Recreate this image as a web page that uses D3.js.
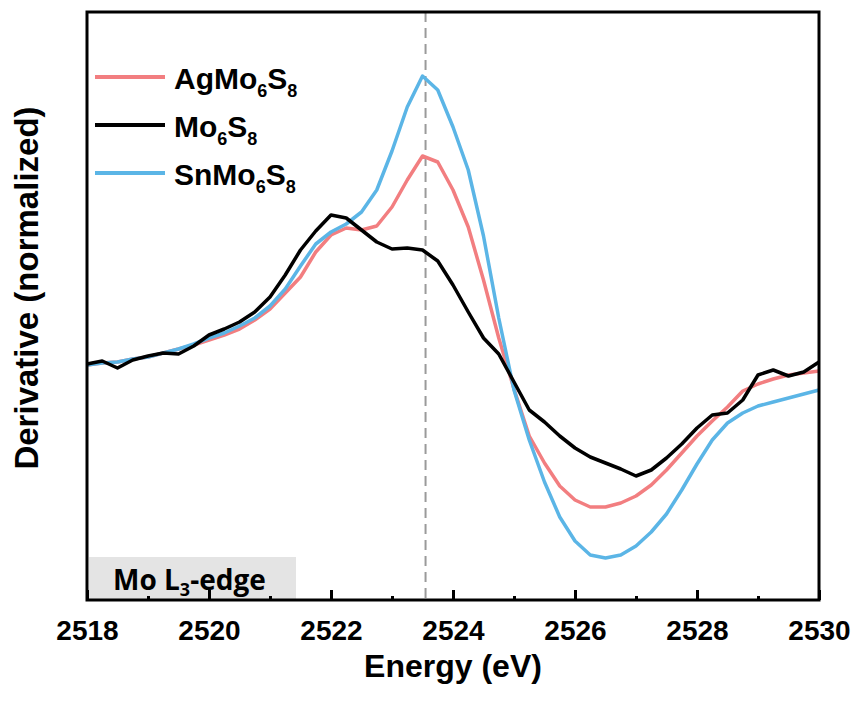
<!DOCTYPE html>
<html>
<head>
<meta charset="utf-8">
<script src="https://cdn.jsdelivr.net/npm/d3@7"></script>
<style>
  body { margin: 0; background: #fff; }
  svg text { font-family: "Liberation Sans", Arial, sans-serif; font-weight: bold; fill: #000; }
</style>
</head>
<body>
<svg id="chart" width="854" height="702"></svg>
<script>
// energy grid (eV)
const energy = [2518.00, 2518.25, 2518.50, 2518.75, 2519.00, 2519.25, 2519.50, 2519.75,
  2520.00, 2520.25, 2520.50, 2520.75, 2521.00, 2521.25, 2521.50, 2521.75,
  2522.00, 2522.25, 2522.50, 2522.75, 2523.00, 2523.25, 2523.50, 2523.75,
  2524.00, 2524.25, 2524.50, 2524.75, 2525.00, 2525.25, 2525.50, 2525.75,
  2526.00, 2526.25, 2526.50, 2526.75, 2527.00, 2527.25, 2527.50, 2527.75,
  2528.00, 2528.25, 2528.50, 2528.75, 2529.00, 2529.25, 2529.50, 2529.75, 2530.00];

// derivative (normalized, arbitrary units)
const agMo6S8 = [0.00, 0.02, 0.03, 0.06, 0.08, 0.12, 0.16, 0.20, 0.25, 0.30, 0.36, 0.45,
  0.56, 0.72, 0.88, 1.13, 1.30, 1.37, 1.35, 1.39, 1.58, 1.85, 2.09, 2.03, 1.75, 1.38,
  0.85, 0.27, -0.24, -0.71, -0.98, -1.21, -1.35, -1.42, -1.42, -1.38, -1.31, -1.20,
  -1.05, -0.88, -0.71, -0.56, -0.42, -0.26, -0.19, -0.14, -0.10, -0.08, -0.06];

const mo6S8 = [0.01, 0.04, -0.03, 0.05, 0.09, 0.12, 0.11, 0.19, 0.30, 0.36, 0.43, 0.53,
  0.68, 0.90, 1.15, 1.34, 1.50, 1.47, 1.35, 1.23, 1.16, 1.17, 1.15, 1.04, 0.80, 0.53,
  0.27, 0.11, -0.17, -0.45, -0.57, -0.71, -0.83, -0.92, -0.98, -1.04, -1.11, -1.05,
  -0.93, -0.79, -0.63, -0.50, -0.48, -0.35, -0.10, -0.05, -0.11, -0.07, 0.03];

const snMo6S8 = [0.00, 0.02, 0.03, 0.06, 0.08, 0.12, 0.16, 0.21, 0.27, 0.32, 0.39, 0.47,
  0.59, 0.76, 0.99, 1.21, 1.33, 1.41, 1.53, 1.75, 2.14, 2.58, 2.89, 2.75, 2.38, 1.95,
  1.29, 0.47, -0.25, -0.75, -1.17, -1.52, -1.76, -1.90, -1.93, -1.90, -1.81, -1.67,
  -1.49, -1.25, -0.99, -0.75, -0.58, -0.48, -0.41, -0.37, -0.33, -0.29, -0.25];

const majorTicks = [2518, 2520, 2522, 2524, 2526, 2528, 2530];
const minorTicks = [2519, 2521, 2523, 2525, 2527, 2529];
const peakEnergy = 2523.55;

const series = [
  { name: "AgMo", sub1: "6", s: "S", sub2: "8", values: agMo6S8, color: "#f27e80" },
  { name: "Mo", sub1: "6", s: "S", sub2: "8", values: mo6S8, color: "#000000" },
  { name: "SnMo", sub1: "6", s: "S", sub2: "8", values: snMo6S8, color: "#5bb5e6" }
];

const svg = d3.select("#chart");
const m = { left: 87, top: 12, right: 819, bottom: 600 };

const x = d3.scaleLinear().domain([2518, 2530]).range([m.left, m.right]);
const y = d3.scaleLinear().domain([-2.35, 3.53]).range([m.bottom, m.top]);

// label box
svg.append("rect")
  .attr("x", m.left + 2).attr("y", 557)
  .attr("width", 207).attr("height", m.bottom - 557)
  .attr("fill", "#e4e4e4");

const boxText = svg.append("text")
  .attr("x", 113).attr("y", 590)
  .style("font-family", "'Open Sans', sans-serif")
  .style("font-weight", "700")
  .style("font-size", "28px");
boxText.append("tspan").text("Mo L");
boxText.append("tspan").text("3").attr("dy", 6).style("font-size", "18px");
boxText.append("tspan").text("-edge").attr("dy", -6);

// dashed reference line
svg.append("line")
  .attr("x1", x(peakEnergy)).attr("x2", x(peakEnergy))
  .attr("y1", m.top).attr("y2", m.bottom)
  .attr("stroke", "#9a9a9a").attr("stroke-width", 2)
  .attr("stroke-dasharray", "10,6");

// curves
const line = d3.line()
  .x((d, i) => x(energy[i]))
  .y(d => y(d));

const drawOrder = [series[0], series[2], series[1]];
svg.append("g").selectAll("path")
  .data(drawOrder)
  .join("path")
  .attr("d", d => line(d.values))
  .attr("fill", "none")
  .attr("stroke", d => d.color)
  .attr("stroke-width", 3.5)
  .attr("stroke-linejoin", "round");

// axes (ticks inside)
const xAxis = svg.append("g")
  .attr("transform", `translate(0,${m.bottom})`)
  .call(d3.axisBottom(x).tickValues(majorTicks).tickFormat(d3.format("d"))
    .tickSizeInner(-10).tickSizeOuter(0).tickPadding(20));
xAxis.select(".domain").remove();
xAxis.selectAll("line").attr("stroke", "#000").attr("stroke-width", 3);
xAxis.selectAll("text").style("font-size", "28px")
  .style("font-family", "'Liberation Sans', Arial, sans-serif").style("font-weight", "bold");

const xMinor = svg.append("g")
  .attr("transform", `translate(0,${m.bottom})`)
  .call(d3.axisBottom(x).tickValues(minorTicks).tickFormat("")
    .tickSizeInner(-4).tickSizeOuter(0));
xMinor.select(".domain").remove();
xMinor.selectAll("line").attr("stroke", "#000").attr("stroke-width", 3);

// frame
svg.append("rect")
  .attr("x", m.left).attr("y", m.top)
  .attr("width", m.right - m.left).attr("height", m.bottom - m.top)
  .attr("fill", "none").attr("stroke", "#000").attr("stroke-width", 3);

// axis titles
svg.append("text")
  .attr("x", (m.left + m.right) / 2).attr("y", 677)
  .attr("text-anchor", "middle")
  .style("font-size", "32px")
  .text("Energy (eV)");

svg.append("text")
  .attr("transform", "translate(38,288) rotate(-90)")
  .attr("text-anchor", "middle")
  .style("font-size", "33px")
  .text("Derivative (normalized)");

// legend
const legend = svg.append("g").selectAll("g")
  .data(series)
  .join("g")
  .attr("transform", (d, i) => `translate(0,${77 + i * 48})`);

legend.append("line")
  .attr("x1", 95).attr("x2", 165)
  .attr("stroke", d => d.color).attr("stroke-width", 4);

const lt = legend.append("text")
  .attr("x", 174).attr("y", 12)
  .style("font-size", "30px");
lt.append("tspan").text(d => d.name);
lt.append("tspan").text(d => d.sub1).attr("dy", 8).style("font-size", "18px");
lt.append("tspan").text(d => d.s).attr("dy", -8);
lt.append("tspan").text(d => d.sub2).attr("dy", 8).style("font-size", "18px");
</script>
</body>
</html>
